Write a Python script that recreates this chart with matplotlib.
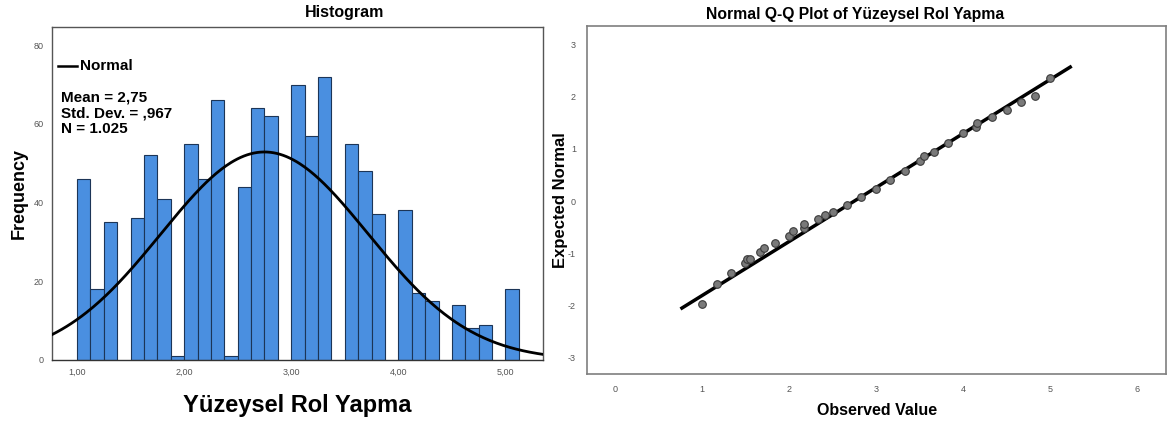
import numpy as np
import matplotlib
matplotlib.use('Agg')
import matplotlib.pyplot as plt

plt.rcParams['font.family'] = ['Liberation Sans', 'DejaVu Sans']
plt.rcParams['axes.unicode_minus'] = False

# Histogram verileri (bin sol kenarları ve frekanslar)
bin_left = [1.0, 1.125, 1.25, 1.5, 1.625, 1.75, 1.875, 2.0, 2.125, 2.25, 2.375,
            2.5, 2.625, 2.75, 3.0, 3.125, 3.25, 3.5, 3.625, 3.75, 4.0, 4.125,
            4.25, 4.5, 4.625, 4.75, 5.0]
counts = [46, 18, 35, 36, 52, 41, 1, 55, 46, 66, 1,
          44, 64, 62, 70, 57, 72, 55, 48, 37, 38, 17,
          15, 14, 8, 9, 18]
bin_width = 0.125
mean, sd, n = 2.75, 0.967, 1025

hist_xticks = [1, 2, 3, 4, 5]
hist_xlabels = ['1,00', '2,00', '3,00', '4,00', '5,00']
hist_yticks = [0, 20, 40, 60, 80]

# Q-Q verileri
obs = [1.0, 1.17, 1.33, 1.50, 1.52, 1.55, 1.67, 1.71, 1.84, 2.0, 2.04, 2.17, 2.17,
       2.33, 2.41, 2.50, 2.67, 2.83, 3.0, 3.16, 3.33, 3.50, 3.55, 3.67, 3.83,
       4.0, 4.15, 4.16, 4.33, 4.50, 4.66, 4.83, 5.0]
expected = [-1.97, -1.58, -1.38, -1.19, -1.10, -1.10, -0.98, -0.89, -0.81, -0.67, -0.57,
            -0.51, -0.44, -0.35, -0.27, -0.20, -0.07, 0.07, 0.24, 0.40, 0.57, 0.76,
            0.86, 0.94, 1.12, 1.31, 1.42, 1.50, 1.61, 1.75, 1.89, 2.01, 2.36]
line_x = [0.77, 5.23]
qq_xticks = [0, 1, 2, 3, 4, 5, 6]
qq_yticks = [-3, -2, -1, 0, 1, 2, 3]

fig = plt.figure(figsize=(11.68, 4.23), dpi=100)

# --- Histogram ---
ax1 = fig.add_axes([0.0445, 0.149, 0.420, 0.787])
ax1.bar(bin_left, counts, width=bin_width, align='edge', color='#4a8fe0',
        edgecolor='#1c3557', linewidth=0.8, zorder=2)
xs = np.linspace(0.766, 5.346, 300)
pdf = n * bin_width / (sd * np.sqrt(2 * np.pi)) * np.exp(-0.5 * ((xs - mean) / sd) ** 2)
ax1.plot(xs, pdf, color='black', linewidth=2, zorder=3)
ax1.set_xlim(0.766, 5.346)
ax1.set_ylim(0, 84.6)
ax1.set_xticks(hist_xticks)
ax1.set_xticklabels(hist_xlabels)
ax1.set_yticks(hist_yticks)
ax1.tick_params(length=0, labelsize=6.5, colors='#555555', pad=6)
for s in ax1.spines.values():
    s.set_color('#555555')
    s.set_linewidth(1.0)
ax1.spines['bottom'].set_color('#333333')
ax1.set_ylabel('Frequency', fontsize=13, fontweight='bold', labelpad=4)
ax1.set_xlabel('Yüzeysel Rol Yapma', fontsize=17, fontweight='bold', labelpad=12)

# Legend ve istatistikler
ax1.plot([0.82, 1.0], [74.6, 74.6], color='black', linewidth=1.8, clip_on=False)
ax1.text(1.03, 74.6, 'Normal', fontsize=11, fontweight='bold', va='center', ha='left')
ax1.text(0.85, 68.5, 'Mean = 2,75\nStd. Dev. = ,967\nN = 1.025', fontsize=11,
         fontweight='bold', va='top', ha='left', linespacing=1.17)

fig.text(345 / 1168, 1 - 13 / 423, 'Histogram', fontsize=11.5, fontweight='bold',
         ha='center', va='center')

# --- Q-Q Plot ---
ax2 = fig.add_axes([0.5026, 0.1158, 0.4957, 0.8227])
line_y = [(v - mean) / sd for v in line_x]
ax2.plot(line_x, line_y, color='black', linewidth=2.5, zorder=2)
ax2.scatter(obs, expected, s=30, color='#7a7a7a', edgecolors='#3a3a3a',
            linewidths=0.8, zorder=3)
ax2.set_xlim(-0.32, 6.33)
ax2.set_ylim(-3.31, 3.35)
ax2.set_xticks(qq_xticks)
ax2.set_yticks(qq_yticks)
ax2.tick_params(length=0, labelsize=6.5, colors='#555555', pad=8)
for s in ax2.spines.values():
    s.set_color('#7f7f7f')
    s.set_linewidth(1.2)
ax2.set_ylabel('Expected Normal', fontsize=12, fontweight='bold', labelpad=0)
fig.text(877 / 1168, 1 - 410 / 423, 'Observed Value', fontsize=11.5, fontweight='bold',
         ha='center', va='center')
fig.text(855 / 1168, 1 - 14 / 423, 'Normal Q-Q Plot of Yüzeysel Rol Yapma', fontsize=11.3,
         fontweight='bold', ha='center', va='center')

fig.savefig('out.png', dpi=100)
